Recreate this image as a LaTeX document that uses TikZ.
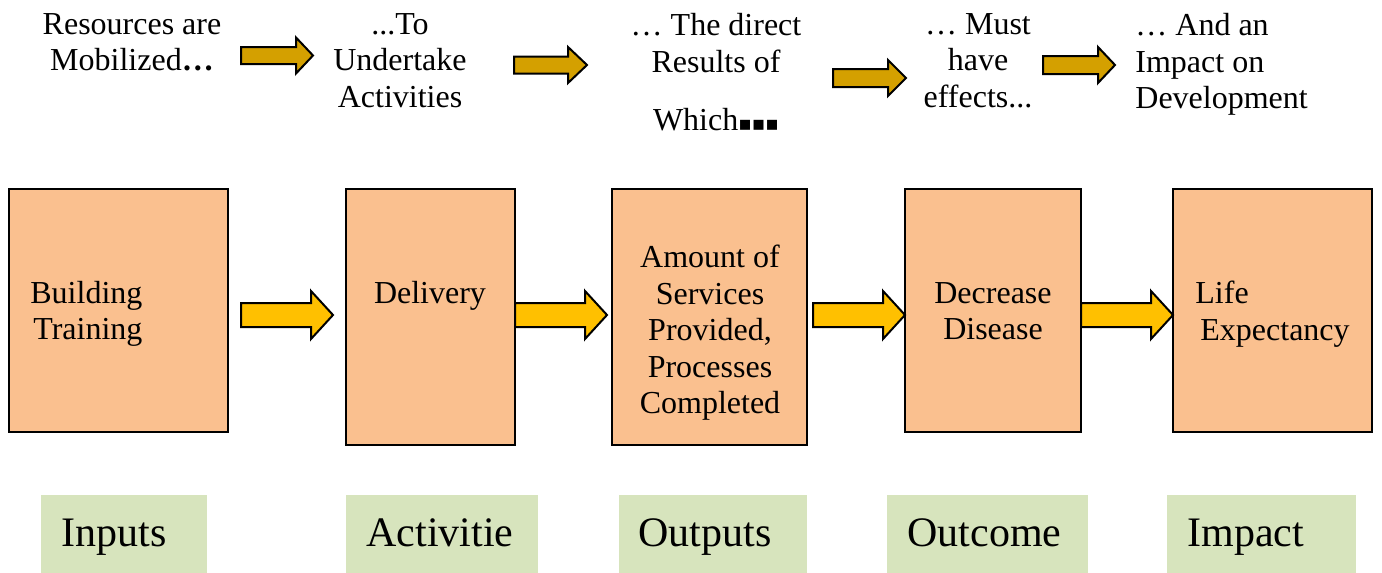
\documentclass[tikz,border=0pt]{standalone}
\usepackage{fontspec}
\setmainfont{Liberation Serif}
\newfontfamily\dejavu{DejaVu Sans}
\usetikzlibrary{fit}
\definecolor{boxorange}{RGB}{250,192,143}
\definecolor{labgreen}{RGB}{215,228,189}
\definecolor{arrowgold}{RGB}{212,160,0}
\definecolor{arrowyellow}{RGB}{255,192,0}
% style, x left, y centre, length, shaft half height, head half height, head length
\newcommand\blkarrow[7]{%
  \draw[#1] (#2,#3-#5) -- (#2+#4-#7,#3-#5) -- (#2+#4-#7,#3-#6) -- (#2+#4,#3)
    -- (#2+#4-#7,#3+#6) -- (#2+#4-#7,#3+#5) -- (#2,#3+#5) -- cycle;}
\begin{document}
\begin{tikzpicture}[x=0.5pt,y=-0.5pt,
  stagebox/.style={draw=black, line width=1pt, fill=boxorange, inner sep=0pt},
  labelbox/.style={fill=labgreen, inner sep=0pt},
  boxtext/.style={font=\fontsize{16}{18.25}\selectfont, inner sep=0pt},
  toptext/.style={font=\fontsize{16}{18.25}\selectfont, inner sep=0pt, anchor=north},
  labtext/.style={font=\fontsize{21}{25}\selectfont, inner sep=0pt, anchor=base west},
  goldarrow/.style={draw=black, line width=1pt, fill=arrowgold, line join=miter},
  yelarrow/.style={draw=black, line width=1pt, fill=arrowyellow, line join=miter},
]
\useasboundingbox (0,0) rectangle (1382,573);

% top row texts
\node[toptext, align=center] (t1) at (132,13) {Resources are\\Mobilized\textbf{…}};
\node[toptext, align=center] (t2) at (400,13) {...To\\Undertake\\Activities};
\node[toptext, align=center] (t3) at (716,13) {… The direct\\Results of\\[10.75pt]Which{\dejavu\fontsize{10}{10}\selectfont ▪▪▪}};
\node[toptext, align=center] (t4) at (978,13) {… Must\\have\\effects...};
\node[toptext, align=left, anchor=north west] (t5) at (1135,13) {… And an\\Impact on\\Development};

% top arrows
\blkarrow{goldarrow}{241}{55.5}{72}{8.5}{18}{17}
\blkarrow{goldarrow}{514}{65}{73}{8.5}{18}{19}
\blkarrow{goldarrow}{833}{78}{73}{9}{18}{18}
\blkarrow{goldarrow}{1043}{65}{72}{9}{18}{17}

% stage boxes
\node[stagebox, fit={(9,189) (228,432)}] (b1) {};
\node[stagebox, fit={(346,189) (515,445)}] (b2) {};
\node[stagebox, fit={(612,189) (807,445)}] (b3) {};
\node[stagebox, fit={(905,189) (1081,432)}] (b4) {};
\node[stagebox, fit={(1173,189) (1372,432)}] (b5) {};

\node[boxtext, align=left, anchor=west] (b1t) at (30,314) {Building\\\hspace*{1.5pt}Training};
\node[boxtext] (b2t) at (430,296) {Delivery};
\node[boxtext, align=center] (b3t) at (710,333) {Amount of\\Services\\Provided,\\Processes\\Completed};
\node[boxtext, align=center] (b4t) at (993,311) {Decrease\\Disease};
\node[boxtext, align=left, anchor=west] (b5t) at (1195,314) {Life\\\hspace*{2.5pt}Expectancy};

% lower arrows
\blkarrow{yelarrow}{241}{315}{92}{12}{24}{22}
\blkarrow{yelarrow}{515}{315}{92}{12}{24}{22}
\blkarrow{yelarrow}{813}{315}{92}{12}{24}{22}
\blkarrow{yelarrow}{1081}{315}{92}{12}{24}{22}

% stage labels
\node[labelbox, fit={(41,495) (207,573)}] (l1) {};
\node[labelbox, fit={(346,495) (538,573)}] (l2) {};
\node[labelbox, fit={(619,495) (807,573)}] (l3) {};
\node[labelbox, fit={(887,495) (1088,573)}] (l4) {};
\node[labelbox, fit={(1167,495) (1356,573)}] (l5) {};
\node[labtext] (l1t) at (61,546) {Inputs};
\node[labtext] (l2t) at (366,546) {Activitie};
\node[labtext] (l3t) at (638,546) {Outputs};
\node[labtext] (l4t) at (907,546) {Outcome};
\node[labtext] (l5t) at (1187,546) {Impact};
\end{tikzpicture}
\end{document}
